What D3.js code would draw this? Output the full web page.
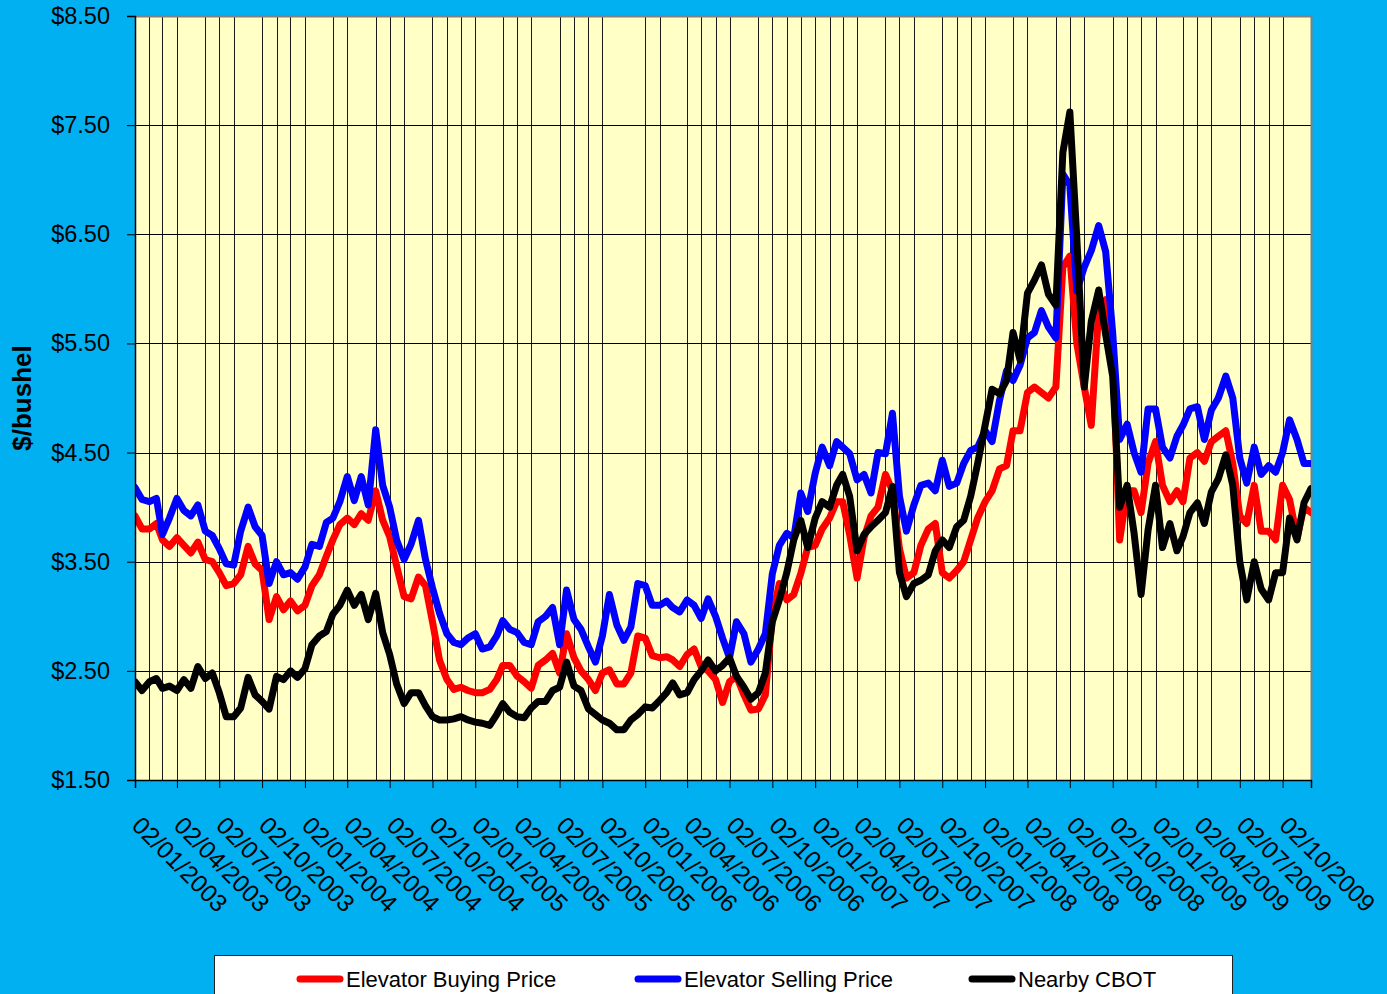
<!DOCTYPE html>
<meta charset="utf-8">
<style>
  body { margin: 0; background: #00b0f0; }
  svg { display: block; font-family: "Liberation Sans", Arial, sans-serif; }
  .grid line { shape-rendering: crispEdges; }
</style>
<body>
<div id="chart"></div>
<script src="https://d3js.org/d3.v7.min.js"></script>
<script>
// semi-monthly readings (2nd and 17th of each month), Jan 2003 .. Dec 2009
const buyingPrice = [
  3.92,3.80,3.80,3.85,3.70,3.64,3.72,3.65,3.58,3.68,3.52,3.50,3.40,3.28,3.30,3.38,3.64,3.48,3.42,2.97,
  3.18,3.06,3.14,3.05,3.10,3.28,3.38,3.55,3.70,3.84,3.90,3.84,3.94,3.88,4.15,3.88,3.73,3.46,3.18,3.16,
  3.36,3.28,2.95,2.60,2.42,2.33,2.35,2.32,2.30,2.30,2.33,2.42,2.55,2.55,2.45,2.40,2.34,2.55,2.60,2.66,
  2.48,2.84,2.62,2.50,2.42,2.32,2.48,2.51,2.38,2.38,2.48,2.82,2.80,2.64,2.62,2.63,2.60,2.54,2.65,2.70,
  2.54,2.50,2.42,2.21,2.40,2.45,2.28,2.14,2.15,2.28,3.00,3.30,3.15,3.20,3.39,3.63,3.65,3.80,3.90,4.05,
  4.05,3.75,3.35,3.72,3.92,4.00,4.30,4.15,3.62,3.35,3.40,3.65,3.80,3.85,3.40,3.35,3.42,3.50,3.70,3.90,
  4.05,4.15,4.35,4.38,4.70,4.70,5.05,5.10,5.05,5.00,5.10,6.20,6.30,5.50,5.10,4.75,5.80,5.90,5.40,3.70,
  4.15,4.15,3.95,4.40,4.60,4.20,4.05,4.15,4.05,4.45,4.50,4.42,4.60,4.65,4.70,4.40,3.92,3.85,4.20,3.78,
  3.78,3.70,4.20,4.07,3.72,4.00,3.95
];
const sellingPrice = [
  4.18,4.07,4.05,4.08,3.75,3.90,4.08,3.97,3.92,4.02,3.78,3.74,3.62,3.48,3.47,3.78,4.00,3.82,3.74,3.30,
  3.50,3.38,3.40,3.34,3.45,3.66,3.64,3.86,3.90,4.05,4.28,4.06,4.28,4.02,4.71,4.20,4.00,3.70,3.52,3.66,
  3.88,3.52,3.26,3.03,2.84,2.76,2.74,2.80,2.84,2.70,2.72,2.82,2.96,2.88,2.85,2.76,2.74,2.95,3.00,3.08,
  2.74,3.24,2.97,2.88,2.72,2.58,2.82,3.20,2.92,2.78,2.90,3.30,3.28,3.10,3.10,3.14,3.08,3.04,3.15,3.10,
  2.98,3.16,3.00,2.80,2.62,2.95,2.84,2.58,2.70,2.84,3.39,3.65,3.76,3.72,4.13,3.96,4.31,4.55,4.38,4.60,
  4.55,4.49,4.25,4.30,4.13,4.50,4.49,4.86,4.10,3.78,4.02,4.20,4.22,4.15,4.43,4.19,4.22,4.40,4.52,4.55,
  4.70,4.60,4.98,5.25,5.16,5.30,5.55,5.60,5.80,5.65,5.55,7.05,6.95,5.98,6.20,6.35,6.58,6.34,5.60,4.62,
  4.76,4.50,4.32,4.90,4.90,4.55,4.45,4.65,4.75,4.90,4.92,4.62,4.89,5.00,5.20,5.00,4.45,4.22,4.55,4.30,
  4.38,4.32,4.50,4.80,4.62,4.40,4.40
];
const nearbyCbot = [
  2.40,2.32,2.40,2.43,2.34,2.36,2.32,2.42,2.34,2.54,2.43,2.48,2.30,2.08,2.08,2.16,2.44,2.28,2.22,2.15,
  2.45,2.42,2.50,2.44,2.52,2.74,2.82,2.86,3.02,3.10,3.24,3.10,3.20,2.97,3.21,2.85,2.65,2.38,2.20,2.30,
  2.30,2.18,2.08,2.05,2.05,2.06,2.08,2.05,2.03,2.02,2.00,2.10,2.20,2.12,2.08,2.07,2.16,2.22,2.22,2.32,
  2.35,2.58,2.36,2.32,2.15,2.10,2.05,2.02,1.96,1.96,2.05,2.10,2.17,2.16,2.23,2.30,2.39,2.28,2.30,2.42,
  2.50,2.60,2.50,2.55,2.62,2.45,2.35,2.24,2.30,2.48,2.95,3.15,3.40,3.70,3.88,3.63,3.90,4.05,4.00,4.20,
  4.30,4.10,3.60,3.75,3.82,3.88,3.95,4.19,3.40,3.18,3.30,3.33,3.38,3.60,3.70,3.63,3.82,3.88,4.10,4.40,
  4.75,5.08,5.04,5.16,5.60,5.35,5.96,6.08,6.22,5.95,5.85,7.25,7.62,6.46,5.10,5.70,5.99,5.58,5.20,4.00,
  4.20,3.76,3.20,3.79,4.20,3.63,3.85,3.60,3.73,3.95,4.04,3.85,4.14,4.26,4.48,4.20,3.50,3.15,3.50,3.25,
  3.15,3.40,3.40,3.90,3.70,4.04,4.17
];
const seriesNames = ["Elevator Buying Price", "Elevator Selling Price", "Nearby CBOT"];
const seriesColors = ["#ff0000", "#0000ff", "#000000"];
const yTicks = [1.5, 2.5, 3.5, 4.5, 5.5, 6.5, 7.5, 8.5];
// month offsets (from 02/01/2003) that carry a vertical gridline
const gridMonths = [1,2,3,5,6,7,9,10,11,12,14,15,17,18,19,21,22,23,24,26,27,28,30,31,32,33,36,37,39,40,41,
  42,44,45,46,47,48,49,50,51,53,54,55,57,58,59,60,62,63,65,66,67,69,70,71,72,74,75,76,78,79,80,81];

const width = 1387, height = 994;
const margin = {left: 135, right: 76, top: 16, bottom: 214};

const start = new Date(2003, 0, 2), end = new Date(2009, 11, 2);

// sample dates: 2nd and 17th of each month, then the closing point
let dates = [];
for (let m = 0; m < 83; m++) {
  dates.push(new Date(2003, m, 2));
  dates.push(new Date(2003, m, 17));
}
dates.push(end);

const x = d3.scaleTime().domain([start, end]).range([margin.left, width - margin.right]);
const y = d3.scaleLinear().domain([1.5, 8.5]).range([height - margin.bottom, margin.top]);

const svg = d3.select("#chart").append("svg")
  .attr("width", width).attr("height", height);

svg.append("rect").attr("width", width).attr("height", height).attr("fill", "#00b0f0");

// plot area
svg.append("rect")
  .attr("x", x.range()[0]).attr("y", y.range()[1])
  .attr("width", x.range()[1] - x.range()[0])
  .attr("height", y.range()[0] - y.range()[1])
  .attr("fill", "#ffffc6");

const grid = svg.append("g").attr("class", "grid");
grid.selectAll("line.v")
  .data(gridMonths)
  .enter().append("line")
    .attr("class", "v")
    .attr("x1", d => Math.round(x(d3.timeMonth.offset(start, d))) + 0.5)
    .attr("x2", d => Math.round(x(d3.timeMonth.offset(start, d))) + 0.5)
    .attr("y1", y.range()[1]).attr("y2", y.range()[0])
    .attr("stroke", "#1a1a1a").attr("stroke-width", 1);
grid.selectAll("line.h")
  .data(yTicks.slice(1, -1))
  .enter().append("line")
    .attr("class", "h")
    .attr("x1", x.range()[0]).attr("x2", x.range()[1])
    .attr("y1", d => Math.round(y(d)) + 0.5)
    .attr("y2", d => Math.round(y(d)) + 0.5)
    .attr("stroke", "#000").attr("stroke-width", 1);

// top/right border
svg.append("path")
  .attr("d", `M${x.range()[0]},${y.range()[1] + 0.5}H${x.range()[1] + 0.5}V${y.range()[0]}`)
  .attr("fill", "none").attr("stroke", "#808080").attr("stroke-width", 2);

// series
svg.append("clipPath").attr("id", "clip")
  .append("rect")
  .attr("x", x.range()[0]).attr("y", y.range()[1])
  .attr("width", x.range()[1] - x.range()[0])
  .attr("height", y.range()[0] - y.range()[1]);

const line = d3.line()
  .x((d, i) => x(dates[i]))
  .y(d => y(d));

[buyingPrice, sellingPrice, nearbyCbot].forEach((s, i) => {
  svg.append("path")
    .datum(s)
    .attr("clip-path", "url(#clip)")
    .attr("d", line)
    .attr("fill", "none")
    .attr("stroke", seriesColors[i])
    .attr("stroke-width", 7)
    .attr("stroke-linejoin", "round")
    .attr("stroke-linecap", "round");
});

// y axis
const yAxis = svg.append("g")
  .attr("transform", `translate(${x.range()[0]},0)`)
  .call(d3.axisLeft(y).tickValues(yTicks).tickSize(8).tickPadding(17)
    .tickFormat(d => "$" + d.toFixed(2)));
yAxis.select(".domain").attr("stroke", "#000").attr("stroke-width", 1.5);
yAxis.selectAll(".tick line").attr("stroke", "#000");
yAxis.selectAll("text").attr("font-size", 23.5).attr("fill", "#000")
  .attr("font-family", "Liberation Sans, Arial, sans-serif");

svg.append("text")
  .attr("transform", `translate(31,${(y.range()[0] + y.range()[1]) / 2}) rotate(-90)`)
  .attr("text-anchor", "middle")
  .attr("font-size", 26).attr("font-weight", "bold")
  .text("$/bushel");

// x axis
const quarterTicks = d3.range(0, 82, 3).map(m => d3.timeMonth.offset(start, m));
const xAxis = svg.append("g")
  .attr("transform", `translate(0,${y.range()[0]})`)
  .call(d3.axisBottom(x).tickValues(quarterTicks).tickSize(8)
    .tickFormat(d3.timeFormat("%d/%m/%Y")));
xAxis.select(".domain").attr("stroke", "#000").attr("stroke-width", 1.5);
xAxis.selectAll(".tick line").attr("stroke", "#000");
xAxis.selectAll("text")
  .attr("font-size", 24.5).attr("fill", "#000")
  .attr("font-family", "Liberation Sans, Arial, sans-serif")
  .attr("text-anchor", "start")
  .attr("dy", null).attr("y", null)
  .attr("transform", "translate(-5,47) rotate(45)");

// legend
const legend = svg.append("g");
legend.append("rect")
  .attr("x", 214.5).attr("y", 955.5).attr("width", 1018).attr("height", 60)
  .attr("fill", "#fff").attr("stroke", "#222").attr("stroke-width", 1);
const legendX = [296, 634, 968];
seriesNames.forEach((name, i) => {
  legend.append("line")
    .attr("x1", legendX[i] + 4).attr("x2", legendX[i] + 44)
    .attr("y1", 979).attr("y2", 979)
    .attr("stroke", seriesColors[i]).attr("stroke-width", 7)
    .attr("stroke-linecap", "round");
  legend.append("text")
    .attr("x", legendX[i] + 50).attr("y", 987)
    .attr("font-size", 22)
    .text(name);
});
</script>
</body>
